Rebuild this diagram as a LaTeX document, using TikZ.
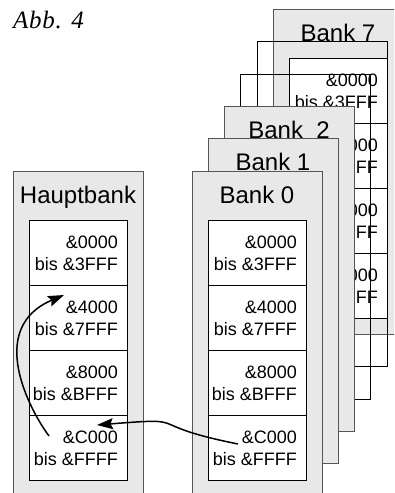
\documentclass[tikz,border=0pt]{standalone}
\usepackage{fontspec}
\setmainfont{Liberation Sans}
\newfontfamily\abbfont{Liberation Serif}[LetterSpace=3]
\usetikzlibrary{calc,arrows.meta}
\definecolor{bankgray}{HTML}{E8E8E8}
\definecolor{bankline}{HTML}{555555}
\tikzset{
  bankbox/.style={draw=bankline, line width=0.9pt, fill=bankgray, minimum width=130pt, minimum height=325pt, inner sep=0pt, outer sep=0pt},
  ghostbox/.style={draw=black, line width=0.9pt, minimum width=130pt, minimum height=325pt, inner sep=0pt, outer sep=0pt},
  banklabel/.style={font=\fontsize{24}{28}\selectfont, inner sep=0pt},
  cellbox/.style={draw=black, line width=0.8pt, fill=white, minimum width=98pt, minimum height=65pt, inner sep=0pt, outer sep=0pt},
  celltext/.style={anchor=east, align=right, inner sep=0pt, font=\fontsize{18}{22}\selectfont},
  arr/.style={-{Stealth[length=16pt,width=11pt,inset=2.5pt]}, line width=1.5pt, black}
}
% bank frame with its title only (cells hidden behind the banks in front)
\newcommand\drawbankframe[4]{%
  \node[bankbox, anchor=north west] (#1) at (#2,#3) {};
  \node[banklabel, anchor=base] (#1l) at ($(#1.north west)+(65,32)$) {#4};
}
% full bank with its four address cells
\newcommand\drawbank[4]{%
  \drawbankframe{#1}{#2}{#3}{#4}
  \node[cellbox, anchor=north west] (#1c1) at ($(#1.north west)+(16,49)$) {};
  \node[cellbox, anchor=north] (#1c2) at (#1c1.south) {};
  \node[cellbox, anchor=north] (#1c3) at (#1c2.south) {};
  \node[cellbox, anchor=north] (#1c4) at (#1c3.south) {};
  \node[celltext] (#1t1) at ($(#1c1.east)+(-9,1)$) {\&0000\\bis \&3FFF};
  \node[celltext] (#1t2) at ($(#1c2.east)+(-9,1)$) {\&4000\\bis \&7FFF};
  \node[celltext] (#1t3) at ($(#1c3.east)+(-9,1)$) {\&8000\\bis \&BFFF};
  \node[celltext] (#1t4) at ($(#1c4.east)+(-9,1)$) {\&C000\\bis \&FFFF};
}
\begin{document}
\begin{tikzpicture}[x=1pt, y=-1pt]
\useasboundingbox (0,0) rectangle (394,493);
\clip (0,0) rectangle (394,493);
% back of the stack
\drawbank{b7}{273}{9}{Bank 7}
\node[ghostbox, anchor=north west] (b6) at (257,41) {};
\node[ghostbox, anchor=north west] (b5) at (240,74) {};
\drawbankframe{b2}{224}{106}{Bank~~2}
\drawbankframe{b1}{208}{138}{Bank 1}
\drawbank{b0}{192}{171}{Bank 0}
% main bank
\drawbank{hb}{13}{171}{Hauptbank}
% arrows
\draw[arr] ($(b0c4.north west)+(30,29)$) .. controls +(-100,-20) and +(99,-8) .. ($(hbc4.north west)+(68,10)$);
\draw[arr] ($(hbc4.north west)+(20,21)$) .. controls +(-18,-24) and +(-79,33.5) .. ($(hbc2.north west)+(35,10)$);
% caption
\node[anchor=base west, inner sep=0pt, font=\abbfont\itshape\fontsize{25}{29}\selectfont] (abb) at (13,28) {Abb. 4};
\end{tikzpicture}
\end{document}
